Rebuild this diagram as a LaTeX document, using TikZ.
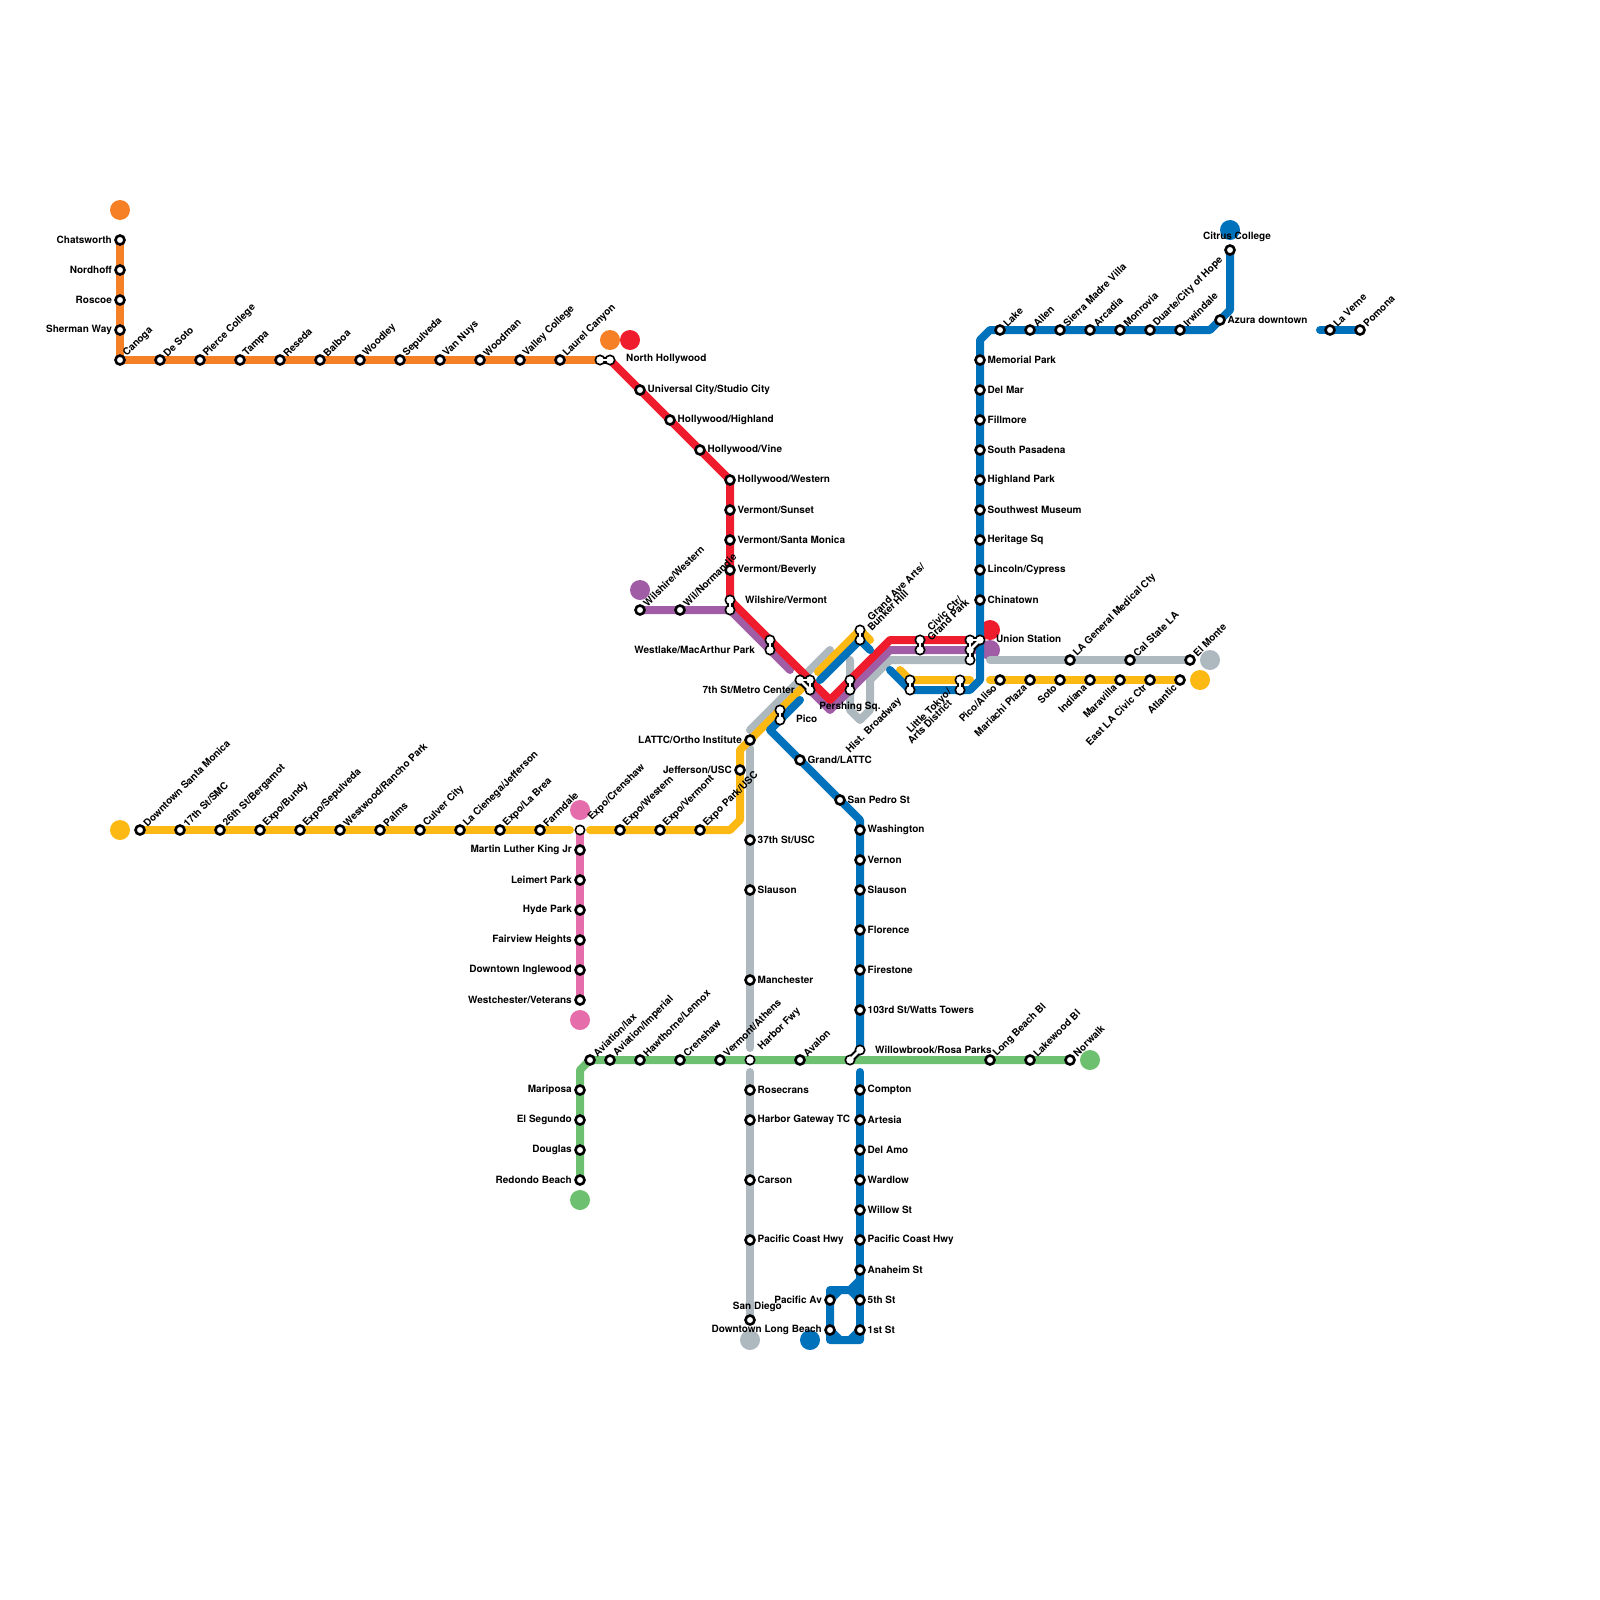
\documentclass[tikz,border=0pt]{standalone}
\usepackage{fontspec}
\setmainfont{TeX Gyre Heros}
\pgfdeclarelayer{terms}\pgfdeclarelayer{lines}\pgfdeclarelayer{links}\pgfdeclarelayer{top}
\pgfsetlayers{terms,lines,links,main,top}
\definecolor{cOrange}{HTML}{F58025}
\definecolor{cRed}{HTML}{EF1C2E}
\definecolor{cPurple}{HTML}{A05DA5}
\definecolor{cYellow}{HTML}{FDB913}
\definecolor{cBlue}{HTML}{0072BC}
\definecolor{cGray}{HTML}{ADB8BF}
\definecolor{cPink}{HTML}{E56DAB}
\definecolor{cGreen}{HTML}{6EC071}
\tikzset{
 stationdot/.style={circle,draw=black,fill=white,line width=2.6pt,minimum size=9pt,inner sep=0pt},
 xferdot/.style={circle,draw=black,fill=white,line width=1.6pt,minimum size=9.4pt,inner sep=0pt},
 termdot/.style={circle,minimum size=20pt,inner sep=0pt},
 lbl/.style={font=\fontsize{10}{10}\selectfont\bfseries,inner sep=0pt,text=black},
 lblR/.style={lbl,anchor=west},
 lblL/.style={lbl,anchor=east},
 lblNE/.style={lbl,anchor=west,rotate=45},
 lblSW/.style={lbl,anchor=east,rotate=45},
 metro/.style={line width=8pt,line cap=round,line join=round},
 linkback/.style={draw=black,line width=7pt},
 linkfront/.style={draw=white,line width=2.6pt},
}
\newcommand\sR[4]{\node[stationdot] (#1) at (#2,#3) {};\node[lblR] (t#1) at (#2+7.5,#3-0.4) {#4};}
\newcommand\sL[4]{\node[stationdot] (#1) at (#2,#3) {};\node[lblL] (t#1) at (#2-8,#3-0.4) {#4};}
\newcommand\sNE[4]{\node[stationdot] (#1) at (#2,#3) {};\node[lblNE] (t#1) at (#2+5,#3-5) {#4};}
\newcommand\sSW[4]{\node[stationdot] (#1) at (#2,#3) {};\node[lblSW] (t#1) at (#2-5,#3+6) {#4};}
\newcommand\xf[3]{\node[xferdot] (#1) at (#2,#3) {};}
\newcommand\lk[2]{%
 \begin{pgfonlayer}{links}\draw[linkback] (#1.center) -- (#2.center);\end{pgfonlayer}%
 \begin{pgfonlayer}{top}\draw[linkfront] (#1.center) -- (#2.center);\end{pgfonlayer}}
\newcommand\term[4]{\begin{pgfonlayer}{terms}\node[termdot,fill=#4] (#1) at (#2,#3) {};\end{pgfonlayer}}
\begin{document}
\begin{tikzpicture}[x=1pt,y=-1pt]
\useasboundingbox (0,0) rectangle (1600,1600);
% terminals
\term{tO1}{120}{210}{cOrange}
\term{tO2}{610}{340}{cOrange}
\term{tR1}{630}{340}{cRed}
\term{tR2}{990}{630}{cRed}
\term{tP1}{640}{590}{cPurple}
\term{tP2}{990}{650}{cPurple}
\term{tB1}{1230}{230}{cBlue}
\term{tB2}{810}{1340}{cBlue}
\term{tY1}{120}{830}{cYellow}
\term{tY2}{1200}{680}{cYellow}
\term{tS1}{750}{1340}{cGray}
\term{tS2}{1210}{660}{cGray}
\term{tK1}{580}{810}{cPink}
\term{tK2}{580}{1020}{cPink}
\term{tG1}{1090}{1060}{cGreen}
\term{tG2}{580}{1200}{cGreen}
% orange
\sL{chats}{120}{240}{Chatsworth}
\sL{nord}{120}{270}{Nordhoff}
\sL{rosc}{120}{300}{Roscoe}
\sL{sherm}{120}{330}{Sherman Way}
\sNE{canoga}{120}{360}{Canoga}
\sNE{desoto}{160}{360}{De Soto}
\sNE{pierce}{200}{360}{Pierce College}
\sNE{tampa}{240}{360}{Tampa}
\sNE{reseda}{280}{360}{Reseda}
\sNE{balboa}{320}{360}{Balboa}
\sNE{woodley}{360}{360}{Woodley}
\sNE{sepulv}{400}{360}{Sepulveda}
\sNE{vannuys}{440}{360}{Van Nuys}
\sNE{woodman}{480}{360}{Woodman}
\sNE{valley}{520}{360}{Valley College}
\sNE{laurel}{560}{360}{Laurel Canyon}
\xf{nohoA}{600}{360}\xf{nohoB}{610}{360}\lk{nohoA}{nohoB}
\node[lblR] (tnoho) at (626,359) {North Hollywood};
% red
\sR{univ}{640}{390}{Universal City/Studio City}
\sR{hhigh}{670}{420}{Hollywood/Highland}
\sR{hvine}{700}{450}{Hollywood/Vine}
\sR{hwest}{730}{480}{Hollywood/Western}
\sR{vsun}{730}{510}{Vermont/Sunset}
\sR{vsm}{730}{540}{Vermont/Santa Monica}
\sR{vbev}{730}{570}{Vermont/Beverly}
\xf{wvA}{730}{600}\xf{wvB}{730}{610}\lk{wvA}{wvB}
\node[lblR] (twv) at (745,599.5) {Wilshire/Vermont};
\xf{mcA}{770}{640}\xf{mcB}{770}{650}\lk{mcA}{mcB}
\node[lblL] (tmc) at (755,649.5) {Westlake/MacArthur Park};
\xf{mA}{800}{680}\xf{mB}{810}{680}\xf{mC}{810}{690}\lk{mA}{mB}\lk{mB}{mC}\lk{mA}{mC}
\node[lblL] (tm) at (795,689.5) {7th St/Metro Center};
\xf{psA}{850}{680}\xf{psB}{850}{690}\lk{psA}{psB}
\node[lbl] (tps) at (850,707) {Pershing Sq.};
\xf{gaA}{860}{630}\xf{gaB}{860}{640}\lk{gaA}{gaB}
\node[lblNE] (tga1) at (869,619) {Grand Ave Arts/};
\node[lblNE] (tga2) at (869,629) {Bunker Hill};
\xf{ccA}{920}{640}\xf{ccB}{920}{650}\lk{ccA}{ccB}
\node[lblNE] (tcc1) at (929,629) {Civic Ctr/};
\node[lblNE] (tcc2) at (929,639) {Grand Park};
\xf{uA}{970}{640}\xf{uB}{980}{640}\xf{uC}{970}{650}\xf{uD}{970}{660}\lk{uA}{uB}\lk{uB}{uC}\lk{uA}{uC}\lk{uC}{uD}
\node[lblR] (tu) at (996,639) {Union Station};
\xf{hbA}{910}{680}\xf{hbB}{910}{690}\lk{hbA}{hbB}
\node[lblSW] (thb) at (900,700) {Hist. Broadway};
\xf{ltA}{960}{680}\xf{ltB}{960}{690}\lk{ltA}{ltB}
\node[lblSW] (tlt1) at (950,691) {Little Tokyo/};
\node[lblSW] (tlt2) at (950,701) {Arts District};
\xf{picA}{780}{710}\xf{picB}{780}{720}\lk{picA}{picB}
\node[lblR] (tpic) at (796,719) {Pico};
% purple
\sNE{wilw}{640}{610}{Wilshire/Western}
\sNE{wiln}{680}{610}{Wil/Normandie}
% blue north
\sR{memp}{980}{360}{Memorial Park}
\sR{delmar}{980}{390}{Del Mar}
\sR{fillm}{980}{420}{Fillmore}
\sR{spas}{980}{450}{South Pasadena}
\sR{highp}{980}{480}{Highland Park}
\sR{swm}{980}{510}{Southwest Museum}
\sR{herit}{980}{540}{Heritage Sq}
\sR{linc}{980}{570}{Lincoln/Cypress}
\sR{china}{980}{600}{Chinatown}
\sNE{lake}{1000}{330}{Lake}
\sNE{allen}{1030}{330}{Allen}
\sNE{sierra}{1060}{330}{Sierra Madre Villa}
\sNE{arcad}{1090}{330}{Arcadia}
\sNE{monr}{1120}{330}{Monrovia}
\sNE{duarte}{1150}{330}{Duarte/City of Hope}
\sNE{irwin}{1180}{330}{Irwindale}
\sR{azura}{1220}{320}{Azura downtown}
\node[stationdot] (citrus) at (1230,250) {};
\node[lbl] (tcitrus) at (1237,237) {Citrus College};
\sNE{laverne}{1330}{330}{La Verne}
\sNE{pomona}{1360}{330}{Pomona}
% blue south
\sR{glattc}{800}{760}{Grand/LATTC}
\sR{sanped}{840}{800}{San Pedro St}
\sR{wash}{860}{830}{Washington}
\sR{vernon}{860}{860}{Vernon}
\sR{slausA}{860}{890}{Slauson}
\sR{floren}{860}{930}{Florence}
\sR{firest}{860}{970}{Firestone}
\sR{wat}{860}{1010}{103rd St/Watts Towers}
\xf{wbA}{860}{1050}\xf{wbB}{850}{1060}\lk{wbA}{wbB}
\node[lblR] (twb) at (875,1049.5) {Willowbrook/Rosa Parks};
\sR{compton}{860}{1090}{Compton}
\sR{artesia}{860}{1120}{Artesia}
\sR{delamo}{860}{1150}{Del Amo}
\sR{wardl}{860}{1180}{Wardlow}
\sR{willow}{860}{1210}{Willow St}
\sR{pchA}{860}{1240}{Pacific Coast Hwy}
\sR{anah}{860}{1270}{Anaheim St}
\sR{fifth}{860}{1300}{5th St}
\sR{first}{860}{1330}{1st St}
\sL{pacav}{830}{1300}{Pacific Av}
\sL{dtlb}{830}{1330}{Downtown Long Beach}
% yellow
\sNE{dtsm}{140}{830}{Downtown Santa Monica}
\sNE{smc}{180}{830}{17th St/SMC}
\sNE{berg}{220}{830}{26th St/Bergamot}
\sNE{bundy}{260}{830}{Expo/Bundy}
\sNE{esep}{300}{830}{Expo/Sepulveda}
\sNE{rancho}{340}{830}{Westwood/Rancho Park}
\sNE{palms}{380}{830}{Palms}
\sNE{culver}{420}{830}{Culver City}
\sNE{lacien}{460}{830}{La Cienega/Jefferson}
\sNE{labrea}{500}{830}{Expo/La Brea}
\sNE{farmd}{540}{830}{Farmdale}
\xf{ecren}{580}{830}
\node[lblNE] (tecren) at (590,819) {Expo/Crenshaw};
\sNE{ewest}{620}{830}{Expo/Western}
\sNE{everm}{660}{830}{Expo/Vermont}
\sNE{epark}{700}{830}{Expo Park/USC}
\sL{jeff}{740}{770}{Jefferson/USC}
\sL{lattc}{750}{740}{LATTC/Ortho Institute}
\sSW{aliso}{1000}{680}{Pico/Aliso}
\sSW{mariachi}{1030}{680}{Mariachi Plaza}
\sSW{soto}{1060}{680}{Soto}
\sSW{indiana}{1090}{680}{Indiana}
\sSW{maravil}{1120}{680}{Maravilla}
\sSW{eastla}{1150}{680}{East LA Civic Ctr}
\sSW{atlant}{1180}{680}{Atlantic}
% pink
\sL{mlk}{580}{850}{Martin Luther King Jr}
\sL{leimert}{580}{880}{Leimert Park}
\sL{hydep}{580}{910}{Hyde Park}
\sL{fairv}{580}{940}{Fairview Heights}
\sL{dting}{580}{970}{Downtown Inglewood}
\sL{westch}{580}{1000}{Westchester/Veterans}
% gray
\sR{usc}{750}{840}{37th St/USC}
\sR{slausB}{750}{890}{Slauson}
\sR{manch}{750}{980}{Manchester}
\xf{hfwy}{750}{1060}
\node[lblNE] (thfwy) at (760,1049) {Harbor Fwy};
\sR{rosec}{750}{1090}{Rosecrans}
\sR{hgtc}{750}{1120}{Harbor Gateway TC}
\sR{carson}{750}{1180}{Carson}
\sR{pchB}{750}{1240}{Pacific Coast Hwy}
\node[stationdot] (sandiego) at (750,1320) {};
\node[lblL] (tsandiego) at (782,1307) {San Diego};
\sNE{lagen}{1070}{660}{LA General Medical Cty}
\sNE{calst}{1130}{660}{Cal State LA}
\sNE{elmonte}{1190}{660}{El Monte}
% green
\sL{redon}{580}{1180}{Redondo Beach}
\sL{doug}{580}{1150}{Douglas}
\sL{elseg}{580}{1120}{El Segundo}
\sL{marip}{580}{1090}{Mariposa}
\sNE{avlax}{590}{1060}{Aviation/lax}
\sNE{avimp}{610}{1060}{Aviation/Imperial}
\sNE{hawth}{640}{1060}{Hawthorne/Lennox}
\sNE{crensh}{680}{1060}{Crenshaw}
\sNE{athens}{720}{1060}{Vermont/Athens}
\sNE{avalon}{800}{1060}{Avalon}
\sNE{lbbl}{990}{1060}{Long Beach Bl}
\sNE{lakew}{1030}{1060}{Lakewood Bl}
\sNE{norw}{1070}{1060}{Norwalk}
% bends and free ends
\coordinate (sA) at (750,730); \coordinate (sB) at (830,650);
\coordinate (sC) at (750,748); \coordinate (sD) at (750,1048);
\coordinate (sE) at (750,1072);
\coordinate (sF) at (850,660); \coordinate (sG) at (850,710); \coordinate (sH) at (860,720);
\coordinate (sI) at (870,710); \coordinate (sJ) at (870,680); \coordinate (sK) at (890,660);
\coordinate (sL) at (970,660); \coordinate (sM) at (990,660);
\coordinate (yA) at (570,830); \coordinate (yB) at (590,830); \coordinate (yC) at (730,830);
\coordinate (yD) at (740,820); \coordinate (yE) at (740,750); \coordinate (yF) at (803,687);
\coordinate (yG) at (818,672); \coordinate (yH) at (860,630); \coordinate (yI) at (870,640);
\coordinate (yJ) at (900,670); \coordinate (yK) at (910,680); \coordinate (yL) at (970,680);
\coordinate (yM) at (990,680);
\coordinate (pA) at (790,670); \coordinate (pB) at (810,690); \coordinate (pC) at (830,710);
\coordinate (pD) at (890,650);
\coordinate (rA) at (830,700); \coordinate (rB) at (890,640);
\coordinate (bA) at (800,700); \coordinate (bB) at (770,730); \coordinate (bC) at (860,820);
\coordinate (bD) at (860,1072); \coordinate (bE) at (860,1280); \coordinate (bF) at (850,1290);
\coordinate (bG) at (830,1290); \coordinate (bH) at (830,1340); \coordinate (bI) at (860,1340);
\coordinate (bJ) at (820,680); \coordinate (bK) at (860,640); \coordinate (bL) at (870,650);
\coordinate (bM) at (890,670); \coordinate (bN) at (910,690); \coordinate (bO) at (970,690);
\coordinate (bP) at (980,680); \coordinate (bQ) at (980,340); \coordinate (bR) at (990,330);
\coordinate (bS) at (1210,330); \coordinate (bT) at (1230,310); \coordinate (bU) at (1320,330);
\coordinate (bV) at (850,1340); \coordinate (bW) at (840,1340); \coordinate (bX) at (840,1290);
\coordinate (gA) at (580,1070);
\begin{pgfonlayer}{lines}
\draw[metro,cOrange] (chats.center) -- (canoga.center) -- (nohoA.center);
\draw[metro,cGray] (sA) -- (sB);
\draw[metro,cGray] (sC) -- (sD);
\draw[metro,cGray] (sE) -- (sandiego.center);
\draw[metro,cGray] (sF) -- (sG) -- (sH) -- (sI) -- (sJ) -- (sK) -- (sL);
\draw[metro,cGray] (sM) -- (elmonte.center);
\draw[metro,cYellow] (dtsm.center) -- (yA);
\draw[metro,cYellow] (yB) -- (yC) -- (yD) -- (yE) -- (lattc.center) -- (yF);
\draw[metro,cYellow] (yG) -- (yH) -- (yI);
\draw[metro,cYellow] (yJ) -- (yK) -- (yL);
\draw[metro,cYellow] (yM) -- (atlant.center);
\draw[metro,cPink] (ecren.center) -- (westch.center);
\draw[metro,cGreen] (redon.center) -- (gA) -- (avlax.center) -- (norw.center);
\draw[metro,cPurple] (wilw.center) -- (wvB.center) -- (pA);
\draw[metro,cPurple] (pB) -- (pC) -- (pD) -- (tP2.center);
\draw[metro,cRed] (nohoB.center) -- (hwest.center) -- (wvA.center) -- (rA) -- (rB) -- (uA.center);
\draw[metro,cBlue] (bA) -- (bB) -- (bC) -- (wbA.center);
\draw[metro,cBlue] (bD) -- (first.center);
\draw[metro,cBlue] (anah.center) -- (bE) -- (bF) -- (bG) -- (bH) -- (bI) -- (first.center);
\draw[metro,cBlue] (pacav.center) -- (bX);
\draw[metro,cBlue] (dtlb.center) -- (bW);
\draw[metro,cBlue] (first.center) -- (bV);
\draw[metro,cBlue] (fifth.center) -- (bF);
\draw[metro,cBlue] (bJ) -- (bK) -- (bL);
\draw[metro,cBlue] (bM) -- (bN) -- (bO) -- (bP) -- (bQ) -- (bR) -- (bS) -- (bT) -- (citrus.center);
\draw[metro,cBlue] (bU) -- (pomona.center);
\end{pgfonlayer}
\end{tikzpicture}
\end{document}
